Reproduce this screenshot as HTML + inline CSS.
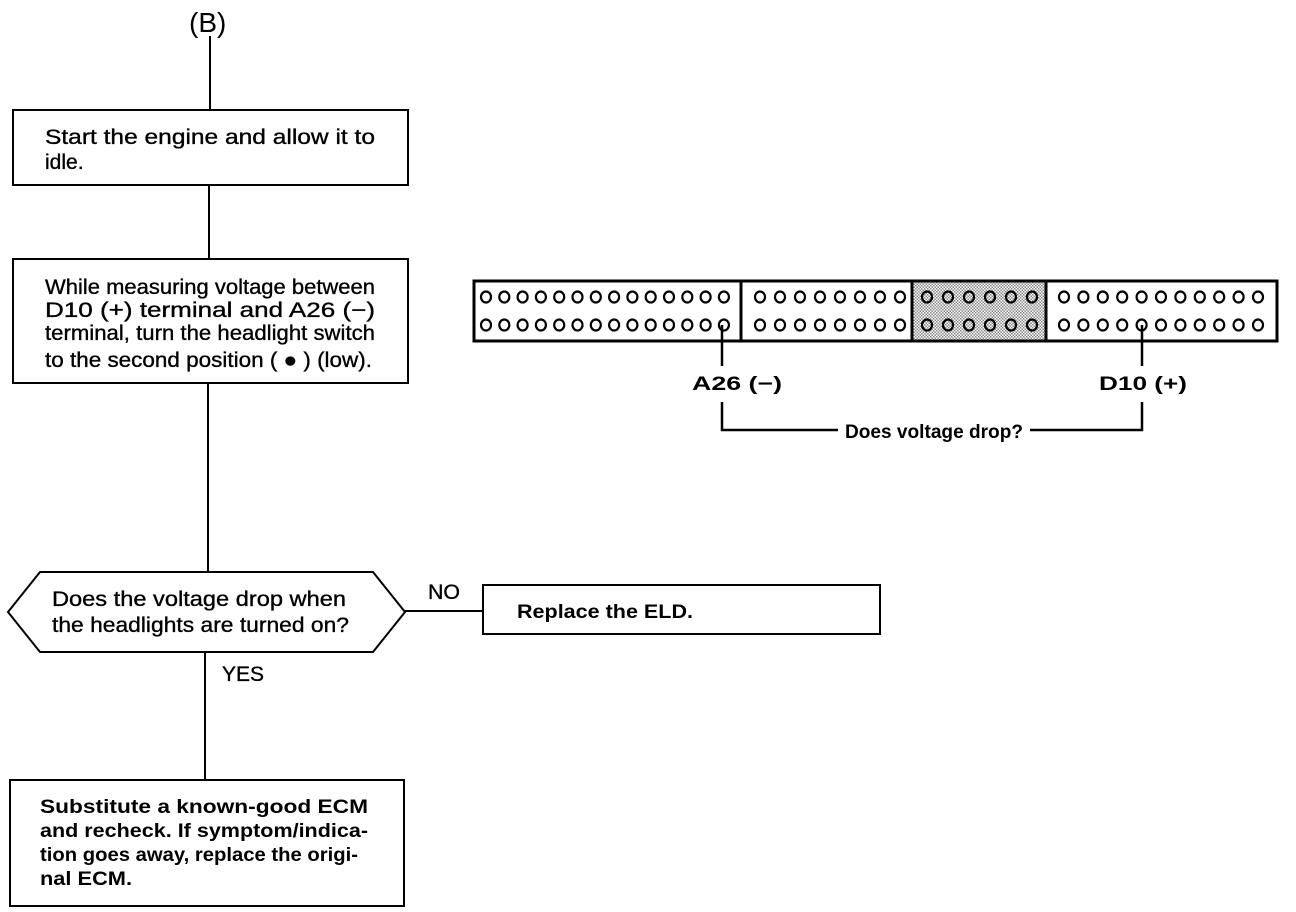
<!DOCTYPE html>
<html><head><style>html,body{margin:0;padding:0;background:#fff}svg{display:block}</style></head>
<body>
<svg width="1296" height="912" viewBox="0 0 1296 912" xmlns="http://www.w3.org/2000/svg" font-family="Liberation Sans, sans-serif" fill="#000">
<defs>
<pattern id="dots" width="3" height="3" patternUnits="userSpaceOnUse"><rect width="3" height="3" fill="#fff"/><rect width="1.5" height="1.5" fill="#888"/><rect x="1.5" y="1.5" width="1.5" height="1.5" fill="#888"/></pattern>
</defs>
<g stroke="#000" stroke-width="2" fill="none">
<line x1="210" y1="36" x2="210" y2="110"/>
<rect x="13" y="110" width="395" height="75"/>
<line x1="209" y1="185" x2="209" y2="259"/>
<rect x="13" y="259" width="395" height="124"/>
<line x1="208" y1="383" x2="208" y2="572"/>
<polygon points="8,612 40,572 373,572 405,612 373,652 40,652"/>
<line x1="405" y1="611" x2="483" y2="611"/>
<rect x="483" y="585" width="397" height="49"/>
<line x1="205" y1="652" x2="205" y2="780"/>
<rect x="10" y="780" width="394" height="126"/>
</g>
<text x="189" y="32" font-size="28">(B)</text>
<g font-size="21" stroke="#000" stroke-width="0.35">
<text x="45" y="144" textLength="330" lengthAdjust="spacingAndGlyphs">Start the engine and allow it to</text>
<text x="45" y="169">idle.</text>
<text x="45" y="294" textLength="330" lengthAdjust="spacingAndGlyphs">While measuring voltage between</text>
<text x="45" y="317" textLength="330" lengthAdjust="spacingAndGlyphs">D10 (+) terminal and A26 (−)</text>
<text x="45" y="340" textLength="330" lengthAdjust="spacingAndGlyphs">terminal, turn the headlight switch</text>
<text x="45" y="367" textLength="327" lengthAdjust="spacingAndGlyphs">to the second position ( ● ) (low).</text>
<text x="52" y="606" textLength="294" lengthAdjust="spacingAndGlyphs">Does the voltage drop when</text>
<text x="52" y="632" textLength="297" lengthAdjust="spacingAndGlyphs">the headlights are turned on?</text>
<text x="428" y="599" textLength="32" lengthAdjust="spacingAndGlyphs">NO</text>
<text x="222" y="681" textLength="42" lengthAdjust="spacingAndGlyphs">YES</text>
</g>
<g font-size="19.5" font-weight="bold">
<text x="517" y="618" textLength="176" lengthAdjust="spacingAndGlyphs">Replace the ELD.</text>
<text x="40" y="813" textLength="328" lengthAdjust="spacingAndGlyphs">Substitute a known-good ECM</text>
<text x="40" y="837" textLength="328" lengthAdjust="spacingAndGlyphs">and recheck. If symptom/indica-</text>
<text x="40" y="861" textLength="318" lengthAdjust="spacingAndGlyphs">tion goes away, replace the origi-</text>
<text x="40" y="885" textLength="92" lengthAdjust="spacingAndGlyphs">nal ECM.</text>
<text x="692" y="390" textLength="90" lengthAdjust="spacingAndGlyphs">A26 (−)</text>
<text x="1099" y="390" textLength="88" lengthAdjust="spacingAndGlyphs">D10 (+)</text>
<text x="845" y="438" textLength="178" lengthAdjust="spacingAndGlyphs">Does voltage drop?</text>
</g>
<rect x="912" y="281" width="134" height="60" fill="url(#dots)"/>
<g stroke="#000" fill="none">
<rect x="474" y="281" width="803" height="60" stroke-width="3"/>
<line x1="741" y1="281" x2="741" y2="341" stroke-width="3"/>
<line x1="912" y1="281" x2="912" y2="341" stroke-width="3"/>
<line x1="1046" y1="281" x2="1046" y2="341" stroke-width="3"/>
<g stroke-width="2.2">
<g id="r1">
<ellipse cx="486" cy="297" rx="5" ry="5.5"/><ellipse cx="504.3" cy="297" rx="5" ry="5.5"/><ellipse cx="522.6" cy="297" rx="5" ry="5.5"/><ellipse cx="540.9" cy="297" rx="5" ry="5.5"/><ellipse cx="559.2" cy="297" rx="5" ry="5.5"/><ellipse cx="577.5" cy="297" rx="5" ry="5.5"/><ellipse cx="595.8" cy="297" rx="5" ry="5.5"/><ellipse cx="614.1" cy="297" rx="5" ry="5.5"/><ellipse cx="632.4" cy="297" rx="5" ry="5.5"/><ellipse cx="650.7" cy="297" rx="5" ry="5.5"/><ellipse cx="669" cy="297" rx="5" ry="5.5"/><ellipse cx="687.3" cy="297" rx="5" ry="5.5"/><ellipse cx="705.6" cy="297" rx="5" ry="5.5"/><ellipse cx="723.9" cy="297" rx="5" ry="5.5"/>
<ellipse cx="760" cy="297" rx="5" ry="5.5"/><ellipse cx="780" cy="297" rx="5" ry="5.5"/><ellipse cx="800" cy="297" rx="5" ry="5.5"/><ellipse cx="820" cy="297" rx="5" ry="5.5"/><ellipse cx="840" cy="297" rx="5" ry="5.5"/><ellipse cx="860" cy="297" rx="5" ry="5.5"/><ellipse cx="880" cy="297" rx="5" ry="5.5"/><ellipse cx="900" cy="297" rx="5" ry="5.5"/>
<ellipse cx="927" cy="297" rx="5" ry="5.5"/><ellipse cx="948" cy="297" rx="5" ry="5.5"/><ellipse cx="969" cy="297" rx="5" ry="5.5"/><ellipse cx="990" cy="297" rx="5" ry="5.5"/><ellipse cx="1011" cy="297" rx="5" ry="5.5"/><ellipse cx="1032" cy="297" rx="5" ry="5.5"/>
<ellipse cx="1064" cy="297" rx="5" ry="5.5"/><ellipse cx="1083.4" cy="297" rx="5" ry="5.5"/><ellipse cx="1102.8" cy="297" rx="5" ry="5.5"/><ellipse cx="1122.2" cy="297" rx="5" ry="5.5"/><ellipse cx="1141.6" cy="297" rx="5" ry="5.5"/><ellipse cx="1161" cy="297" rx="5" ry="5.5"/><ellipse cx="1180.4" cy="297" rx="5" ry="5.5"/><ellipse cx="1199.8" cy="297" rx="5" ry="5.5"/><ellipse cx="1219.2" cy="297" rx="5" ry="5.5"/><ellipse cx="1238.6" cy="297" rx="5" ry="5.5"/><ellipse cx="1258" cy="297" rx="5" ry="5.5"/>
</g>
<use href="#r1" y="28"/>
</g>
<g stroke-width="2.5">
<polyline points="722,325 722,366"/>
<polyline points="722,402 722,430 838,430"/>
<polyline points="1142,325 1142,366"/>
<polyline points="1142,402 1142,430 1030,430"/>
</g>
</g>
</svg>
</body></html>
